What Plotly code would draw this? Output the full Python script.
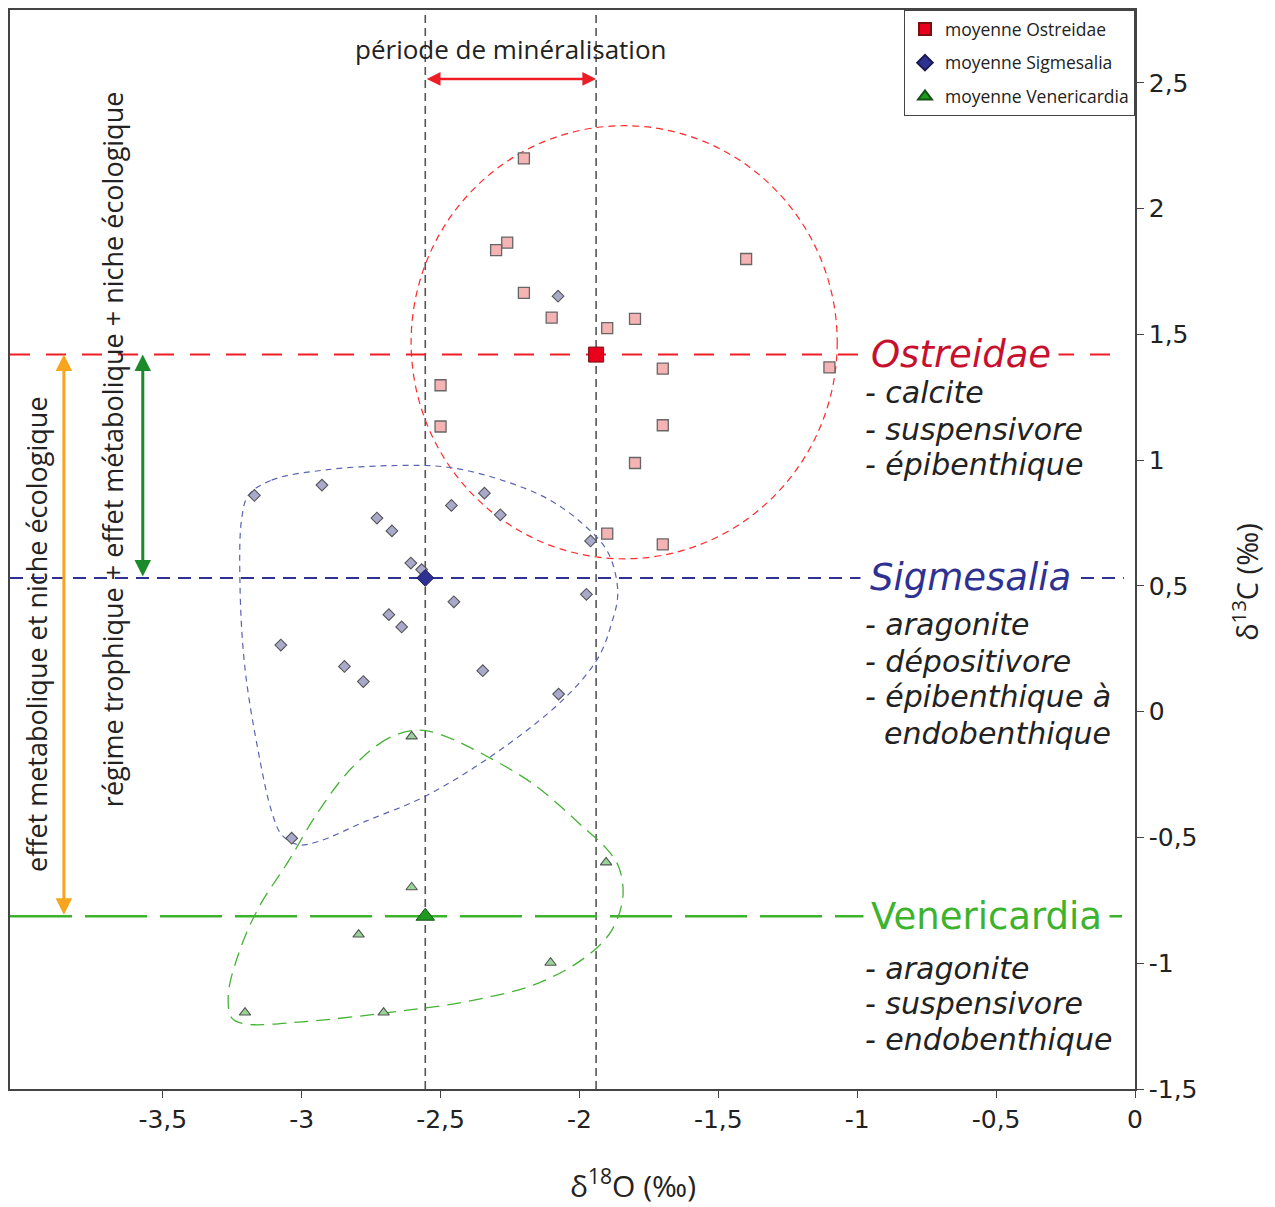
import plotly.graph_objects as go

# ---------------- data ----------------
ost_x = [-2.20, -2.26, -2.30, -1.40, -2.20, -2.10, -1.80, -1.90, -1.70, -1.10, -2.50, -2.50, -1.70, -1.80, -1.90, -1.70]
ost_y = [2.20, 1.865, 1.835, 1.80, 1.665, 1.567, 1.562, 1.525, 1.364, 1.369, 1.298, 1.134, 1.139, 0.989, 0.708, 0.665]

sig_x = [-3.17, -2.927, -2.729, -2.675, -2.461, -2.342, -2.285, -2.607, -2.568, -1.96, -1.975,
         -2.452, -2.686, -2.64, -3.075, -2.846, -2.778, -2.348, -2.075, -3.036, -2.077]
sig_y = [0.86, 0.901, 0.77, 0.719, 0.82, 0.869, 0.783, 0.591, 0.565, 0.679, 0.467,
         0.437, 0.386, 0.337, 0.265, 0.18, 0.12, 0.163, 0.07, -0.503, 1.652]

ven_x = [-2.604, -2.604, -1.904, -2.795, -2.104, -3.204, -2.705]
ven_y = [-0.098, -0.698, -0.599, -0.886, -0.998, -1.196, -1.196]

groups = ["Ostreidae", "Sigmesalia", "Venericardia"]
mean_x = [-1.94, -2.555, -2.555]
mean_y = [1.42, 0.532, -0.813]

# envelope outlines
sig_env_x = [-3.192, -3.108, -2.893, -2.653, -2.473, -2.294, -2.114, -1.982, -1.898, -1.862, -1.886, -1.934,
             -2.054, -2.294, -2.557, -2.773, -2.940, -3.012, -3.072, -3.108, -3.156, -3.204, -3.222, -3.216, -3.192]
sig_env_y = [0.860, 0.921, 0.964, 0.979, 0.972, 0.926, 0.846, 0.741, 0.635, 0.476, 0.345, 0.212,
             0.053, -0.159, -0.337, -0.437, -0.516, -0.529, -0.489, -0.397, -0.159, 0.172, 0.503, 0.767, 0.860]
ven_env_x = [-2.581, -2.689, -2.821, -2.940, -3.048, -3.156, -3.228, -3.264, -3.252, -3.204, -3.000, -2.641,
             -2.401, -2.162, -1.982, -1.886, -1.844, -1.857, -1.904, -1.982, -2.162, -2.342, -2.497, -2.581]
ven_env_y = [-0.073, -0.106, -0.225, -0.397, -0.595, -0.781, -0.965, -1.124, -1.217, -1.241, -1.233, -1.190,
             -1.151, -1.085, -0.979, -0.873, -0.741, -0.622, -0.542, -0.463, -0.291, -0.172, -0.092, -0.073]
ost_env_center = (-1.839, 1.469)
ost_env_radius = (0.767, 0.861)

x_ticks = [-3.5, -3, -2.5, -2, -1.5, -1, -0.5, 0]
x_ticktext = ["-3,5", "-3", "-2,5", "-2", "-1,5", "-1", "-0,5", "0"]
y_ticks = [-1.5, -1, -0.5, 0, 0.5, 1, 1.5, 2, 2.5]
y_ticktext = ["-1,5", "-1", "-0,5", "0", "0,5", "1", "1,5", "2", "2,5"]

XR = [-4.05, 0]
YR = [-1.5, 2.79]

RED = "#ee1c25"
NAVY = "#2e3192"
GREEN = "#3cb32c"
TXT = "#222222"

fig = go.Figure()

# envelopes
fig.add_trace(go.Scatter(x=sig_env_x, y=sig_env_y, mode="lines", line=dict(color="#5a63b0", width=1.2, dash="6px,5px", shape="spline", smoothing=1.0), showlegend=False, hoverinfo="skip"))
fig.add_trace(go.Scatter(x=ven_env_x, y=ven_env_y, mode="lines", line=dict(color="#44b334", width=1.3, dash="14px,8px", shape="spline", smoothing=1.0), showlegend=False, hoverinfo="skip"))

cx, cy = ost_env_center
rx, ry = ost_env_radius
shapes = [
    dict(type="circle", xref="x", yref="y", x0=cx - rx, x1=cx + rx, y0=cy - ry, y1=cy + ry,
         line=dict(color="#ff2a2a", width=1.2, dash="7px,5px"), layer="below"),
    dict(type="line", xref="x", yref="y", x0=XR[0], x1=-0.04, y0=mean_y[0], y1=mean_y[0], line=dict(color=RED, width=2, dash="20px,16px"), layer="below"),
    dict(type="line", xref="x", yref="y", x0=XR[0], x1=-0.04, y0=mean_y[1], y1=mean_y[1], line=dict(color=NAVY, width=2, dash="13px,8px"), layer="below"),
    dict(type="line", xref="x", yref="y", x0=XR[0], x1=-0.04, y0=mean_y[2], y1=mean_y[2], line=dict(color=GREEN, width=2.5, dash="62px,13px"), layer="below"),
    dict(type="line", xref="x", yref="paper", x0=mean_x[1], x1=mean_x[1], y0=0, y1=1, line=dict(color="#555555", width=1.6, dash="8px,5px"), layer="below"),
    dict(type="line", xref="x", yref="paper", x0=mean_x[0], x1=mean_x[0], y0=0, y1=1, line=dict(color="#555555", width=1.6, dash="8px,5px"), layer="below"),
]

# individual samples
fig.add_trace(go.Scatter(x=ost_x, y=ost_y, mode="markers", marker=dict(symbol="square", size=11, color="#f6b3b3", line=dict(color="#666666", width=1.3)), showlegend=False))
fig.add_trace(go.Scatter(x=sig_x, y=sig_y, mode="markers", marker=dict(symbol="diamond", size=9, color="#a9a9cc", line=dict(color="#555555", width=1.1)), showlegend=False))
fig.add_trace(go.Scatter(x=ven_x, y=ven_y, mode="markers", marker=dict(symbol="triangle-up", size=10, color="#98d498", line=dict(color="#555555", width=1.1)), showlegend=False))

# means
fig.add_trace(go.Scatter(x=[mean_x[0]], y=[mean_y[0]], mode="markers", name="moyenne Ostreidae", legendgroup="o",
                         marker=dict(symbol="square", size=15, color="#e8001c", line=dict(color="#7a1010", width=1))))
fig.add_trace(go.Scatter(x=[mean_x[1]], y=[mean_y[1]], mode="markers", name="moyenne Sigmesalia", legendgroup="s",
                         marker=dict(symbol="diamond", size=13, color=NAVY, line=dict(color="#1a1a50", width=1))))
fig.add_trace(go.Scatter(x=[mean_x[2]], y=[mean_y[2]], mode="markers", name="moyenne Venericardia", legendgroup="v",
                         marker=dict(symbol="triangle-up", size=16, color="#1e9a1e", line=dict(color="#145214", width=1))))

ann = []
SIDE = "DejaVu Sans"
LBL = "Open Sans"
ann.append(dict(x=-0.981, y=mean_y[0], xref="x", yref="y", xanchor="left", yanchor="middle", text="<i>Ostreidae</i>",
                font=dict(family=SIDE, size=37, color="#c8102e"), showarrow=False, bgcolor="white", borderpad=7))
ann.append(dict(x=-0.991, y=mean_y[1], xref="x", yref="y", xanchor="left", yanchor="middle", text="<i>Sigmesalia</i>",
                font=dict(family=SIDE, size=37, color=NAVY), showarrow=False, bgcolor="white", borderpad=9))
ann.append(dict(x=-0.980, y=mean_y[2], xref="x", yref="y", xanchor="left", yanchor="middle", text="Venericardia",
                font=dict(family=SIDE, size=37, color=GREEN), showarrow=False, bgcolor="white", borderpad=7))

def px2y(py):
    return (710 - py) / 252.0

x_dash = -0.980
x_ind = -0.912
lines = [
    ("- calcite", 390, x_dash), ("- suspensivore", 427, x_dash), ("- épibenthique", 462, x_dash),
    ("- aragonite", 623, x_dash), ("- dépositivore", 660, x_dash), ("- épibenthique à", 695, x_dash), ("endobenthique", 732, x_ind),
    ("- aragonite", 967, x_dash), ("- suspensivore", 1002, x_dash), ("- endobenthique", 1038, x_dash),
]
for t, py, xx in lines:
    ann.append(dict(x=xx, y=px2y(py), xref="x", yref="y", xanchor="left", yanchor="middle", text="<i>" + t + "</i>",
                    font=dict(family=SIDE, size=30, color=TXT), showarrow=False))

# arrows
ann.append(dict(x=mean_x[0], y=2.516, ax=mean_x[1], ay=2.516, xref="x", yref="y", axref="x", ayref="y", text="",
                showarrow=True, arrowhead=2, arrowsize=1.1, arrowwidth=2.5, arrowcolor="#ee1c25", arrowside="end+start"))
ann.append(dict(x=-3.856, y=mean_y[0], ax=-3.856, ay=mean_y[2], xref="x", yref="y", axref="x", ayref="y", text="",
                showarrow=True, arrowhead=2, arrowsize=1.1, arrowwidth=3, arrowcolor="#f7a51c", arrowside="end+start"))
ann.append(dict(x=-3.572, y=mean_y[0], ax=-3.572, ay=mean_y[1], xref="x", yref="y", axref="x", ayref="y", text="",
                showarrow=True, arrowhead=2, arrowsize=1.1, arrowwidth=3, arrowcolor="#1a8a2a", arrowside="end+start"))

ann.append(dict(x=-2.246, y=px2y(46), xref="x", yref="y", text="période de minéralisation", showarrow=False,
                font=dict(family=LBL, size=26, color=TXT)))
ann.append(dict(x=(35 - 1135) / 278.3, y=px2y(632), xref="x", yref="y", text="effet metabolique et niche écologique",
                textangle=-90, showarrow=False, font=dict(family=LBL, size=27, color=TXT)))
ann.append(dict(x=(110 - 1135) / 278.3, y=px2y(447), xref="x", yref="y", text="régime trophique + effet métabolique + niche écologique",
                textangle=-90, showarrow=False, font=dict(family=LBL, size=27, color=TXT)))

# axis titles
ann.append(dict(x=(632 - 1135) / 278.3, y=-0.088, xref="x", yref="paper", text="δ<sup>18</sup>O (‰)", showarrow=False,
                yanchor="middle", font=dict(family=LBL, size=30, color=TXT)))
ann.append(dict(x=(1245 - 8) / 1127.0, y=px2y(580), xref="paper", yref="y", text="δ<sup>13</sup>C (‰)", showarrow=False,
                textangle=-90, xanchor="center", font=dict(family=LBL, size=29, color=TXT)))

fig.update_layout(
    width=1267, height=1199,
    margin=dict(l=0, r=140, t=0, b=118),
    paper_bgcolor="white", plot_bgcolor="white",
    shapes=shapes, annotations=ann,
    legend=dict(x=1, y=1, xanchor="right", yanchor="top", bgcolor="white", bordercolor="#444444", borderwidth=1,
                font=dict(family=LBL, size=17.5, color=TXT), tracegroupgap=8, itemsizing="constant"),
    xaxis=dict(range=XR, tickvals=x_ticks, ticktext=x_ticktext, showgrid=False, zeroline=False, showline=True,
               linecolor="#444444", linewidth=1.5, mirror=True, ticks="outside", ticklen=7, tickcolor="#444444",
               tickfont=dict(family=SIDE, size=25, color=TXT)),
    yaxis=dict(range=YR, tickvals=y_ticks, ticktext=y_ticktext, side="right", showgrid=False, zeroline=False,
               showline=True, linecolor="#444444", linewidth=1.5, mirror=True, ticks="outside", ticklen=7,
               tickcolor="#444444", tickfont=dict(family=SIDE, size=25, color=TXT)),
)

fig.write_html("out.html")
